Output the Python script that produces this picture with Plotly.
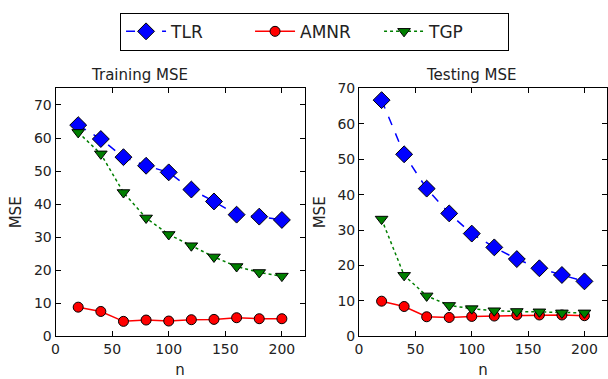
import plotly.graph_objects as go
from plotly.subplots import make_subplots

n = [20, 40, 60, 80, 100, 120, 140, 160, 180, 200]

train_tlr = [63.9, 59.7, 54.2, 51.6, 49.6, 44.4, 40.8, 36.8, 36.2, 35.2]
train_amnr = [8.8, 7.5, 4.5, 4.9, 4.6, 5.0, 5.1, 5.6, 5.3, 5.3]
train_tgp = [61.7, 55.2, 43.5, 35.8, 30.8, 27.4, 24.0, 21.1, 19.3, 18.2]

test_tlr = [66.7, 51.4, 41.7, 34.7, 29.0, 25.1, 21.8, 19.2, 17.3, 15.5]
test_amnr = [9.9, 8.4, 5.5, 5.3, 5.6, 5.7, 6.0, 6.0, 6.0, 5.8]
test_tgp = [33.1, 17.2, 11.4, 8.7, 7.8, 7.2, 7.0, 6.9, 6.6, 6.6]

W, H = 608, 379
fig = make_subplots(rows=1, cols=2, subplot_titles=("Training MSE", "Testing MSE"))

styles = {
    "TLR": dict(color="#0000ff", dash="dash", symbol="diamond", size=13),
    "AMNR": dict(color="#ff0000", dash="solid", symbol="circle", size=10),
    "TGP": dict(color="#007f00", dash="dot", symbol="triangle-down", size=11),
}

for col, data in [(1, (train_tlr, train_amnr, train_tgp)), (2, (test_tlr, test_amnr, test_tgp))]:
    for name, ys in zip(["TLR", "AMNR", "TGP"], data):
        s = styles[name]
        fig.add_trace(go.Scatter(
            x=n, y=ys, name=name, mode="lines+markers",
            line=dict(color=s["color"], dash=s["dash"], width=1.5),
            marker=dict(symbol=s["symbol"], size=s["size"], color=s["color"],
                        line=dict(color="black", width=1)),
            showlegend=(col == 1),
        ), row=1, col=col)

axis_common = dict(showgrid=False, zeroline=False, showline=True, linecolor="black",
                   linewidth=1, mirror="ticks", ticks="inside", ticklen=5,
                   tickcolor="black", tickfont=dict(size=14, color="#222"))

fig.update_xaxes(range=[0, 220], tickvals=[0, 50, 100, 150, 200], **axis_common)
fig.update_xaxes(title=dict(text="n", font=dict(size=15, color="#222"), standoff=10))
fig.update_yaxes(**axis_common)
fig.update_yaxes(title=dict(text="MSE", font=dict(size=15, color="#222"), standoff=8))
fig.update_yaxes(range=[0, 75], tickvals=[0, 10, 20, 30, 40, 50, 60, 70], row=1, col=1)
fig.update_yaxes(range=[0, 70], tickvals=[0, 10, 20, 30, 40, 50, 60, 70], row=1, col=2)

ybot = (H - 342.7) / H
ytop = (H - 84) / H
fig.update_layout(
    xaxis=dict(domain=[52 / W, 303 / W]),
    xaxis2=dict(domain=[358 / W, 1.0]),
    yaxis=dict(domain=[ybot, ytop]),
    yaxis2=dict(domain=[ybot, ytop]),
)

for ann in fig.layout.annotations:
    ann.font = dict(size=15, color="#222")
    ann.y = ytop
    ann.yshift = 2

fig.update_layout(
    width=W, height=H,
    margin=dict(l=0, r=0, t=0, b=0),
    paper_bgcolor="white", plot_bgcolor="white",
    font=dict(family="DejaVu Sans", color="#222"),
    legend=dict(orientation="h", x=0.515, y=1 - 5 / H, xanchor="center", yanchor="top",
                bordercolor="black", borderwidth=1, font=dict(size=17, color="#222"),
                itemwidth=40, entrywidth=74, tracegroupgap=0),
)

fig.write_html("out.html")
